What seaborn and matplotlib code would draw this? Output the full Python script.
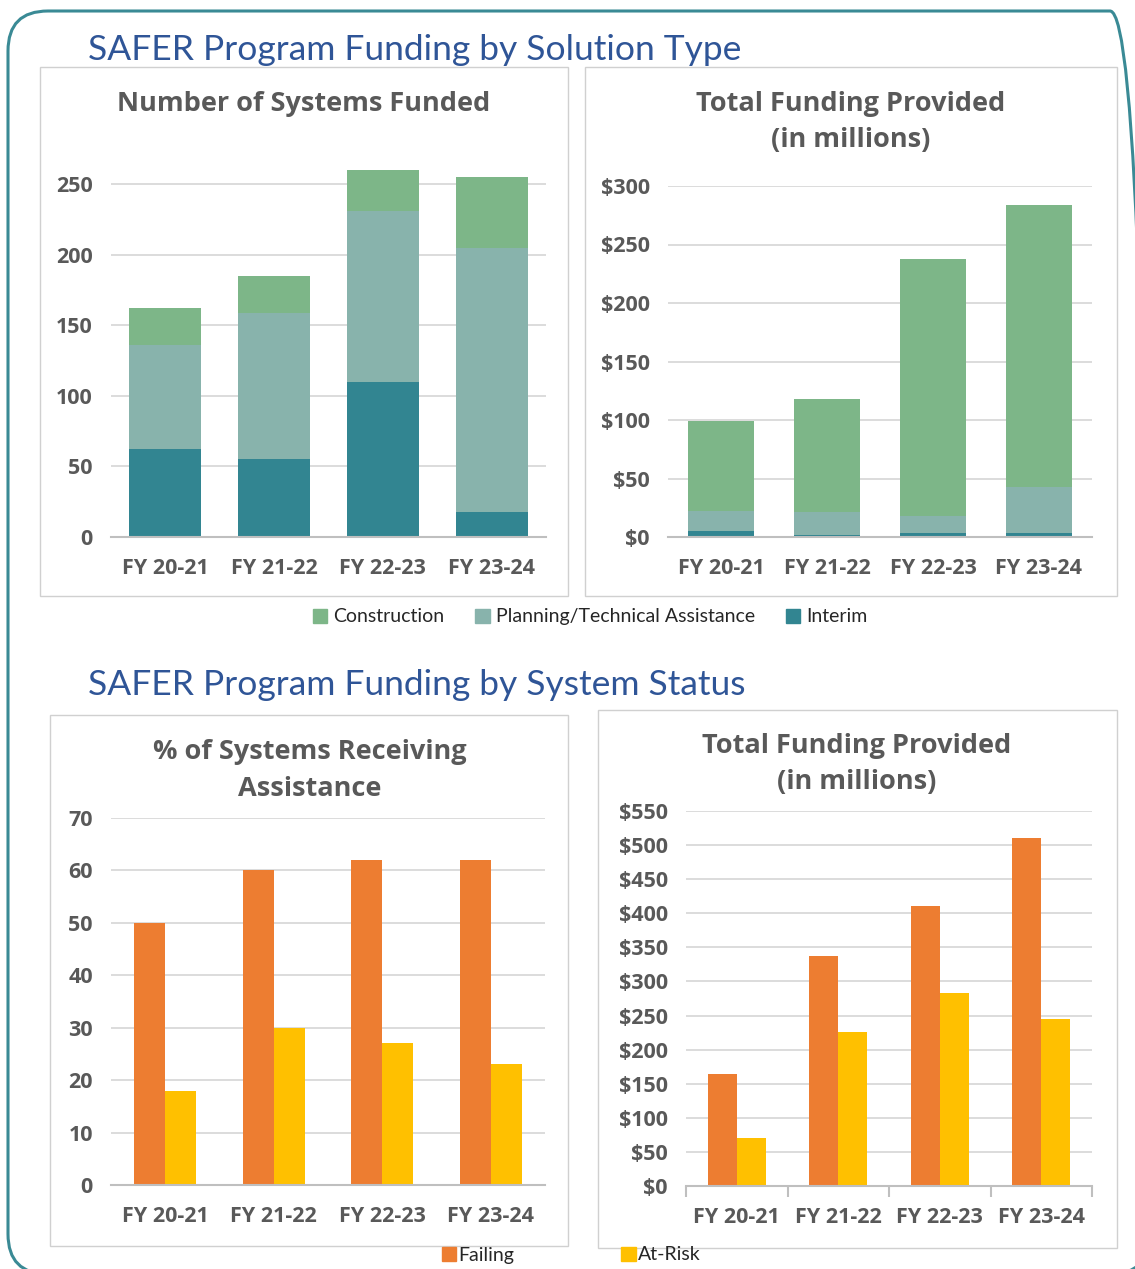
import numpy as np
import pandas as pd
import matplotlib
matplotlib.use("Agg")
import matplotlib.pyplot as plt
from matplotlib.patches import Rectangle, FancyBboxPatch, Patch
from matplotlib.transforms import IdentityTransform
import seaborn as sns

# ---- data ----
years = ["FY 20-21", "FY 21-22", "FY 22-23", "FY 23-24"]

# number of systems funded, by solution type
systems_interim = [62, 55, 110, 18]
systems_planning = [74, 104, 121, 187]
systems_construction = [26, 26, 29, 50]

# total funding (millions), by solution type
funding_interim = [5, 2, 3, 3]
funding_planning = [17, 19, 15, 40]
funding_construction = [77, 97, 220, 241]

# by system status
pct_failing = [50, 60, 62, 62]
pct_at_risk = [18, 30, 27, 23]
status_funding_failing = [165, 337, 410, 511]
status_funding_at_risk = [70, 226, 283, 245]

C_CONSTR = "#7DB688"
C_PLAN = "#88B3AC"
C_INTERIM = "#328591"
C_FAIL = "#ED7D31"
C_RISK = "#FFC000"
GREY = "#595959"
BLUE = "#2F5597"
GRID = "#D9D9D9"

W, H = 1135, 1269
FONT = ["Lato", "DejaVu Sans"]
BOLD_FONT = ["Open Sans", "DejaVu Sans"]

sns.set_theme(style="white")
plt.rcParams["font.family"] = FONT


def rect(x0, y0, x1, y1):
    return [x0 / W, 1 - y1 / H, (x1 - x0) / W, (y1 - y0) / H]


def style_axis(ax, ymax, ticks, fmt="{}"):
    ax.set_ylim(0, ymax)
    ax.set_xlim(-0.5, 3.5)
    ax.set_yticks(list(ticks), [fmt.format(t) for t in ticks])
    ax.set_xticks(range(len(years)), years)
    ax.yaxis.grid(True, color=GRID, lw=1.3)
    ax.set_axisbelow(True)
    for s in ["top", "right", "left"]:
        ax.spines[s].set_visible(False)
    ax.spines["bottom"].set_color("#BFBFBF")
    ax.spines["bottom"].set_linewidth(1.5)
    ax.tick_params(axis="y", length=0, pad=13, labelcolor=GREY)
    ax.tick_params(axis="x", length=0, pad=15, labelcolor=GREY)
    ax.set_xlabel("")
    ax.set_ylabel("")
    ax.patch.set_alpha(0)


def stacked(ax, interim, planning, construction, width):
    df = pd.DataFrame({"year": years, "interim": interim,
                       "planning": planning, "construction": construction})
    df["lvl2"] = df["interim"] + df["planning"]
    df["lvl3"] = df["lvl2"] + df["construction"]
    for col, c in [("lvl3", C_CONSTR), ("lvl2", C_PLAN), ("interim", C_INTERIM)]:
        sns.barplot(data=df, x="year", y=col, color=c, width=width,
                    saturation=1, linewidth=0, ax=ax)


def grouped(ax, failing, at_risk, width):
    df = pd.DataFrame({"year": years * 2,
                       "value": failing + at_risk,
                       "status": ["Failing"] * 4 + ["At-Risk"] * 4})
    sns.barplot(data=df, x="year", y="value", hue="status",
                palette=[C_FAIL, C_RISK], width=width, gap=0, saturation=1,
                linewidth=0, legend=False, ax=ax)


fig = plt.figure(figsize=(W / 100, H / 100), dpi=100)

# outer rounded frame (pixel coordinates) and panel boxes
fig.patches.append(FancyBboxPatch((8, H - 1274), 1142, 1263,
                                  boxstyle="round,pad=0,rounding_size=40",
                                  transform=IdentityTransform(), fill=False,
                                  ec="#3A8A95", lw=2.2))
for x0, y0, x1, y1 in [(40, 67, 568, 596), (585, 67, 1117, 596),
                       (50, 715, 568, 1246), (598, 710, 1117, 1248)]:
    fig.patches.append(Rectangle((x0 / W, 1 - y1 / H), (x1 - x0) / W, (y1 - y0) / H,
                                 transform=fig.transFigure, fill=False,
                                 ec="#D0D0D0", lw=1))

# section titles
fig.text(88 / W, 1 - 50 / H, "SAFER Program Funding by Solution Type",
         fontsize=25.5, color=BLUE, va="center", ha="left")
fig.text(88 / W, 1 - 685 / H, "SAFER Program Funding by System Status",
         fontsize=25.5, color=BLUE, va="center", ha="left")

# panel titles
ptitle = dict(fontsize=19.5, color=GREY, fontweight="bold", ha="center",
              va="center", family=BOLD_FONT)
fig.text(304 / W, 1 - 104 / H, "Number of Systems Funded", **ptitle)
fig.text(851 / W, 1 - 104 / H, "Total Funding Provided", **ptitle)
fig.text(851 / W, 1 - 140 / H, "(in millions)", **ptitle)
fig.text(310 / W, 1 - 752 / H, "% of Systems Receiving", **ptitle)
fig.text(310 / W, 1 - 789 / H, "Assistance", **ptitle)
fig.text(857 / W, 1 - 746 / H, "Total Funding Provided", **ptitle)
fig.text(857 / W, 1 - 782 / H, "(in millions)", **ptitle)

# panel 1: systems funded
ax1 = fig.add_axes(rect(111, 163, 546, 537))
stacked(ax1, systems_interim, systems_planning, systems_construction, 0.66)
style_axis(ax1, 265, range(0, 251, 50))

# panel 2: funding by solution type
ax2 = fig.add_axes(rect(668, 186, 1092, 537))
stacked(ax2, funding_interim, funding_planning, funding_construction, 0.63)
style_axis(ax2, 300, range(0, 301, 50), "${}")

# panel 3: % of systems
ax3 = fig.add_axes(rect(111, 818, 545, 1185))
grouped(ax3, pct_failing, pct_at_risk, 0.57)
style_axis(ax3, 70, range(0, 71, 10))

# panel 4: funding by status
ax4 = fig.add_axes(rect(686, 811, 1092, 1186))
grouped(ax4, status_funding_failing, status_funding_at_risk, 0.57)
style_axis(ax4, 550, range(0, 551, 50), "${}")
ax4.set_xticks([-0.5, 0.5, 1.5, 2.5, 3.5], minor=True)
ax4.tick_params(axis="x", which="minor", bottom=True, length=8, width=1.5,
                color="#BFBFBF", direction="out")

# legends
leg_font = dict(size=14)
fig.legend(handles=[Patch(color=C_CONSTR, label="Construction"),
                    Patch(color=C_PLAN, label="Planning/Technical Assistance"),
                    Patch(color=C_INTERIM, label="Interim")],
           loc="center", bbox_to_anchor=(590 / W, 1 - 617 / H), ncol=3,
           frameon=False, prop=leg_font, handlelength=0.75, handleheight=0.75,
           handletextpad=0.3, columnspacing=1.6, labelcolor="#262626")
fig.legend(handles=[Patch(color=C_FAIL, label="Failing"),
                    Patch(color=C_RISK, label="At-Risk")],
           loc="center", bbox_to_anchor=(571 / W, 1 - 1255 / H), ncol=2,
           frameon=False, prop=leg_font, handlelength=0.75, handleheight=0.75,
           handletextpad=0.1, columnspacing=5.5, labelcolor="#262626")

# bold tick labels, applied once the ticks exist
fig.canvas.draw()
for ax in [ax1, ax2, ax3, ax4]:
    plt.setp(ax.get_xticklabels() + ax.get_yticklabels(),
             family=BOLD_FONT, fontweight="bold", fontsize=15.5)

fig.savefig("out.png", dpi=100)
